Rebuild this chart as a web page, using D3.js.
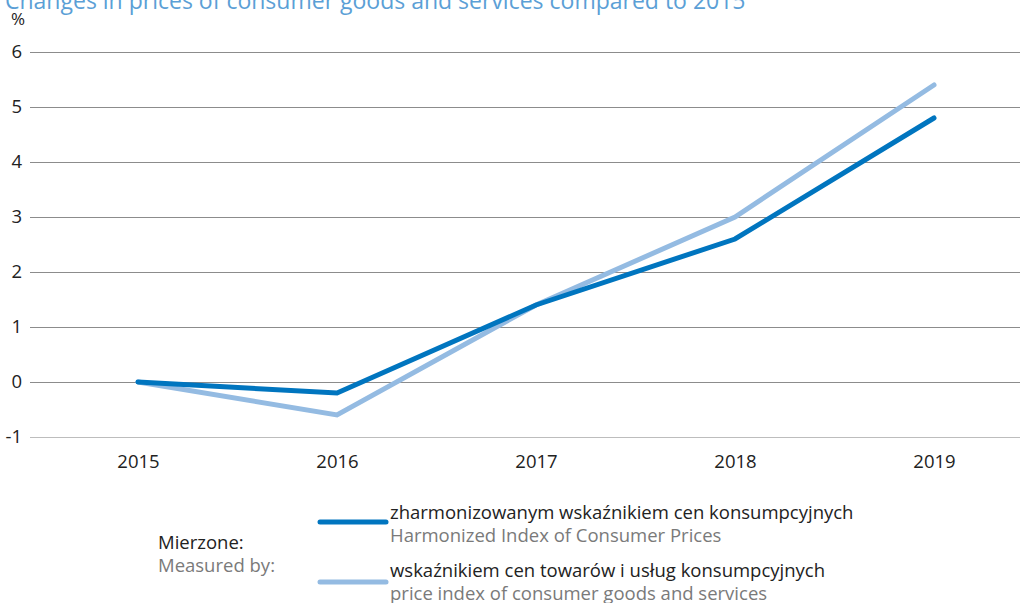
<!DOCTYPE html>
<html>
<head>
<meta charset="utf-8">
<script src="https://cdn.jsdelivr.net/npm/d3@7"></script>
<style>
  body { margin: 0; background: #fff; }
  svg { font-family: "Open Sans", sans-serif; }
</style>
</head>
<body>
<svg id="chart" width="1020" height="603"></svg>
<script>
const years = [2015, 2016, 2017, 2018, 2019];
const hicp = [0, -0.2, 1.4, 2.6, 4.8];
const cpi = [0, -0.6, 1.4, 3.0, 5.4];
const yTicks = [-1, 0, 1, 2, 3, 4, 5, 6];

const svg = d3.select('#chart');
const fs = '18.5px';

const x = d3.scalePoint()
    .domain(years)
    .range([138, 934]);

const y = d3.scaleLinear()
    .domain([-1, 6])
    .range([437, 52]);

// title (cut off at the top, as in the original)
svg.append('text')
    .attr('x', 5)
    .attr('y', 9)
    .attr('fill', '#5b9fd6')
    .style('font-size', '23px')
    .text('Changes in prices of consumer goods and services compared to 2015');

svg.append('text')
    .attr('x', 11)
    .attr('y', 25)
    .style('font-size', '17px')
    .attr('fill', '#222')
    .text('%');

// grid + y labels
const yAxis = d3.axisLeft(y)
    .tickValues(yTicks)
    .tickSize(-990)
    .tickPadding(8)
    .tickFormat((d) => String(d));

const gy = svg.append('g')
    .attr('transform', 'translate(30,0)')
    .call(yAxis);
gy.select('.domain').remove();
gy.selectAll('line')
    .attr('stroke', (d) => d === -1 ? '#bdbdbd' : '#8c8c8c')
    .attr('stroke-width', 1.2);
gy.selectAll('text')
    .attr('fill', '#222')
    .style('font-size', fs)
    .style('font-family', '"Open Sans", sans-serif');

// x labels
const xAxis = d3.axisBottom(x).tickSize(0).tickPadding(0);
const gx = svg.append('g')
    .attr('transform', 'translate(0,455)')
    .call(xAxis);
gx.select('.domain').remove();
gx.selectAll('text')
    .attr('fill', '#222')
    .style('font-size', fs)
    .style('font-family', '"Open Sans", sans-serif');

const line = d3.line()
    .x((d, i) => x(years[i]))
    .y((d) => y(d));

svg.append('path')
    .datum(cpi)
    .attr('fill', 'none')
    .attr('stroke', '#94bbe2')
    .attr('stroke-width', 5)
    .attr('stroke-linecap', 'round')
    .attr('d', line);

svg.append('path')
    .datum(hicp)
    .attr('fill', 'none')
    .attr('stroke', '#0075bf')
    .attr('stroke-width', 5)
    .attr('stroke-linecap', 'round')
    .attr('d', line);

// legend
svg.append('text')
    .attr('x', 158)
    .attr('y', 549)
    .attr('fill', '#222')
    .style('font-size', fs)
    .text('Mierzone:');
svg.append('text')
    .attr('x', 158)
    .attr('y', 572)
    .attr('fill', '#7a7a7a')
    .style('font-size', fs)
    .text('Measured by:');

const legend = [
    { color: '#0075bf', pl: 'zharmonizowanym wskaźnikiem cen konsumpcyjnych', en: 'Harmonized Index of Consumer Prices', ly: 522, ty: 519 },
    { color: '#94bbe2', pl: 'wskaźnikiem cen towarów i usług konsumpcyjnych', en: 'price index of consumer goods and services', ly: 582, ty: 577 }
];

const lg = svg.selectAll('g.legend')
    .data(legend)
    .enter().append('g')
    .attr('class', 'legend');
lg.append('line')
    .attr('x1', 320).attr('x2', 386)
    .attr('y1', (d) => d.ly).attr('y2', (d) => d.ly)
    .attr('stroke', (d) => d.color)
    .attr('stroke-width', 5)
    .attr('stroke-linecap', 'round');
lg.append('text')
    .attr('x', 390)
    .attr('y', (d) => d.ty)
    .attr('fill', '#222')
    .style('font-size', fs)
    .text((d) => d.pl);
lg.append('text')
    .attr('x', 390)
    .attr('y', (d) => d.ty + 23)
    .attr('fill', '#7a7a7a')
    .style('font-size', fs)
    .text((d) => d.en);
</script>
</body>
</html>
